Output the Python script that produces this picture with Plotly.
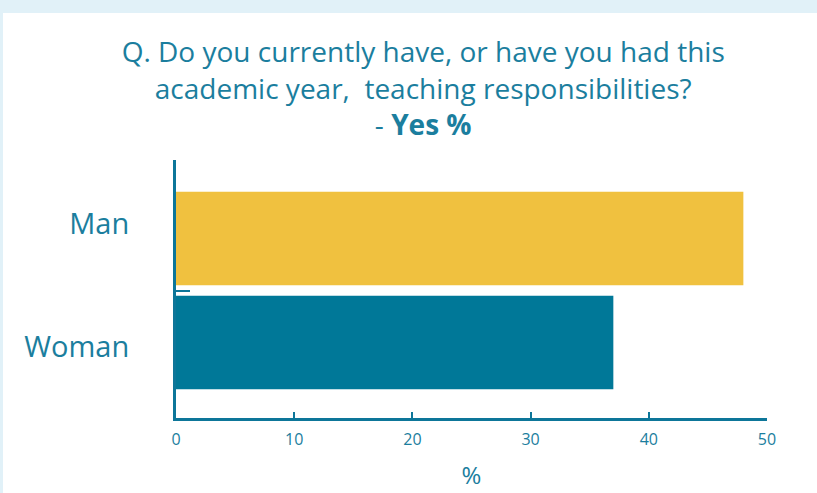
import plotly.graph_objects as go

categories = ["Woman", "Man"]
label_pos = [-0.04, 1.145]
values = [37, 48]
bar_colors = ["#007898", "#F0C13F"]
x_ticks = [0, 10, 20, 30, 40, 50]

TEXT = "#1b7e9e"
AXIS = "#0d7699"
FONT = "Open Sans"

fig = go.Figure()
fig.add_trace(go.Bar(
    x=values, y=[0, 1], orientation="h",
    marker=dict(color=bar_colors, line=dict(width=0)),
    width=0.9, hoverinfo="skip",
))

fig.update_layout(
    width=817, height=493,
    margin=dict(l=176, r=50, t=160, b=75, autoexpand=False),
    paper_bgcolor="#e1f1f8",
    plot_bgcolor="rgba(0,0,0,0)",
    showlegend=False,
    font=dict(family=FONT, color=TEXT),
    title=dict(
        text="Q. Do you currently have, or have you had this<br>academic year,  teaching responsibilities?<br>- <b>Yes %</b>",
        x=0.518, xanchor="center", y=0.874, yanchor="top", automargin=False,
        font=dict(family=FONT, size=28, color=TEXT),
    ),
    xaxis=dict(
        range=[0, 50], tickvals=x_ticks, ticks="inside", ticklen=6, tickwidth=2,
        tickcolor=AXIS, showline=True, linecolor=AXIS, linewidth=3,
        showgrid=False, zeroline=False, automargin=False,
        tickfont=dict(family=FONT, size=16, color=TEXT),
        ticklabelstandoff=5,
        title=dict(text="%", font=dict(family=FONT, size=24, color=TEXT), standoff=18),
        fixedrange=True,
    ),
    yaxis=dict(
        range=[-0.726, 1.755], tickvals=label_pos, ticktext=categories,
        ticks="", showline=True, linecolor=AXIS, linewidth=3,
        showgrid=False, zeroline=False, automargin=False,
        tickfont=dict(family=FONT, size=29, color=TEXT),
        ticklabelstandoff=38,
        minor=dict(tickvals=[0.5], ticks="inside", ticklen=14, tickwidth=2, tickcolor=AXIS, showgrid=False),
        fixedrange=True,
    ),
    shapes=[dict(
        type="rect", xref="paper", yref="paper",
        x0=(3 - 176) / 591, x1=2, y0=-0.5, y1=1 + (160 - 13) / 258,
        fillcolor="white", line=dict(width=0), layer="below",
    )],
)

fig.write_html("out.html", config={"displayModeBar": False},
               post_script="document.body.style.margin='0';")
